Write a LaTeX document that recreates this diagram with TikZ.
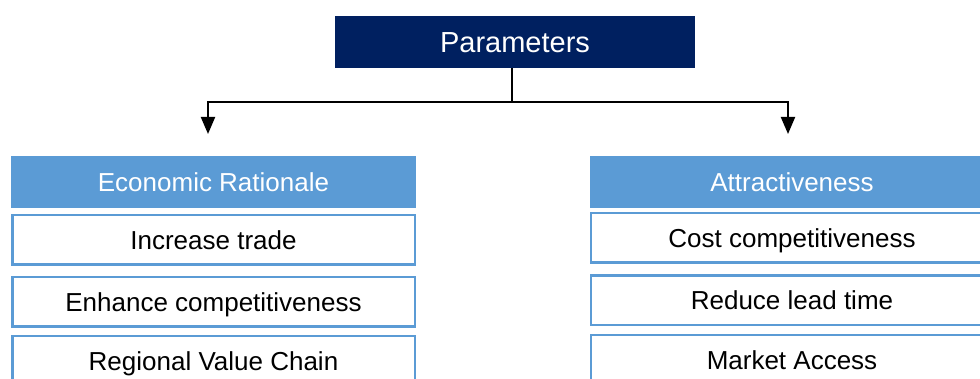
\documentclass[tikz,border=0pt]{standalone}
\usepackage{fontspec}
\setmainfont{Liberation Sans}
\usetikzlibrary{arrows.meta}
\definecolor{navy}{HTML}{002060}
\definecolor{lblue}{HTML}{5B9BD5}
\begin{document}
\begin{tikzpicture}[x=1pt,y=-1pt,
  base/.style={inner sep=0pt, text height=18.6pt, text depth=0pt, font=\fontsize{26}{30}\selectfont},
  topbox/.style={base, fill=navy, text=white, minimum width=360pt, minimum height=52pt, text height=20.8pt, font=\fontsize{29}{34}\selectfont},
  headbox/.style={base, fill=lblue, text=white, minimum width=405pt, minimum height=52pt},
  itembox/.style={base, draw=lblue, line width=2.5pt, fill=white, text=black, minimum width=402.5pt, minimum height=49.5pt},
  conn/.style={line width=2pt, draw=black},
  arr/.style={conn, -{Triangle[length=17pt,width=14pt]}}]
\useasboundingbox (0,0) rectangle (980,379);
\clip (0,0) rectangle (980,379);
\fill[white] (0,0) rectangle (980,379);

\node[topbox] (P) at (515,42) {Parameters};

\node[headbox] (eh) at (213.5,182) {Economic Rationale};
\node[itembox] (e1) at (213.5,240) {Increase trade};
\node[itembox] (e2) at (213.5,302) {Enhance competitiveness};
\node[itembox] (e3) at (213.5,361) {Regional Value Chain};

\node[headbox] (ah) at (792,182) {Attractiveness};
\node[itembox] (a1) at (792,238) {Cost competitiveness};
\node[itembox] (a2) at (792,300.5) {Reduce lead time};
\node[itembox] (a3) at (792,360) {Market Access};

\coordinate (j) at (512,102);
\coordinate (la) at (208,134);
\coordinate (ra) at (788,134);
\draw[conn] (P.south -| j) -- (j);
\draw[arr] (j) -| (la);
\draw[arr] (j) -| (ra);
\end{tikzpicture}
\end{document}
